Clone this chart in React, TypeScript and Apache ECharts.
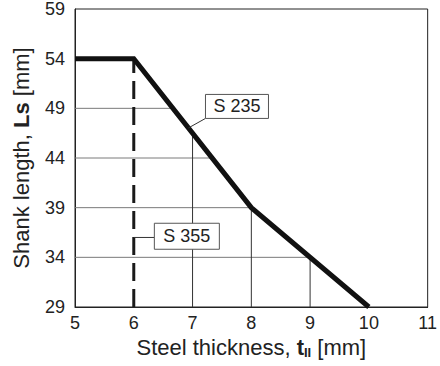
import React, { useEffect, useRef } from "react";
import * as echarts from "echarts";

// ---- data ----
const xMin = 5;
const xMax = 11;
const yMin = 29;
const yMax = 59;
const tickStep = 5;
const curveX = [5, 6, 8, 10];
const curveY = [54, 54, 39, 29];
const hGridY = [49, 44, 39, 34];
const vGridX = [7, 8, 9];
const dashX = 6;
const labelS235 = { text: "S 235", anchorX: 7.22, anchorY: 50.4, leaderX: 6.93 };
const labelS355 = { text: "S 355", anchorX: 6.35, anchorY: 37.43, leaderY: 36.0 };

const FONT = "'Liberation Sans Narrow', 'Liberation Sans', Arial, sans-serif";

function yAt(x: number): number {
  for (let i = 0; i < curveX.length - 1; i++) {
    if (x >= curveX[i] && x <= curveX[i + 1]) {
      const t = (x - curveX[i]) / (curveX[i + 1] - curveX[i]);
      return curveY[i] + t * (curveY[i + 1] - curveY[i]);
    }
  }
  return curveY[curveY.length - 1];
}
function xAt(y: number): number {
  for (let i = 0; i < curveX.length - 1; i++) {
    const a = curveY[i], b = curveY[i + 1];
    if (a !== b && y <= Math.max(a, b) && y >= Math.min(a, b)) {
      const t = (y - a) / (b - a);
      return curveX[i] + t * (curveX[i + 1] - curveX[i]);
    }
  }
  return curveX[0];
}
const off = (y: number) => y - yMin;

export default function App() {
  const ref = useRef<HTMLDivElement>(null);
  useEffect(() => {
    if (!ref.current) return;
    const chart = echarts.init(ref.current, undefined, { renderer: "svg" });
    const series: any[] = [];
    hGridY.forEach((y) => {
      series.push({
        type: "line",
        data: [[xMin, off(y)], [xAt(y), off(y)]],
        symbol: "none",
        lineStyle: { color: "#7a7a7a", width: 1 },
        silent: true,
        z: 1,
      });
    });
    vGridX.forEach((x) => {
      series.push({
        type: "line",
        data: [[x, 0], [x, off(yAt(x))]],
        symbol: "none",
        lineStyle: { color: "#333", width: 1 },
        silent: true,
        z: 1,
      });
    });
    series.push({
      type: "line",
      data: [[dashX, 0], [dashX, off(yAt(dashX))]],
      symbol: "none",
      lineStyle: { color: "#1a1a1a", width: 3, type: [18, 8] },
      silent: true,
      z: 2,
    });
    series.push({
      type: "line",
      data: curveX.map((x, i) => [x, off(curveY[i])]),
      symbol: "none",
      lineStyle: { color: "#111", width: 5, join: "miter" },
      silent: true,
      z: 3,
    });

    chart.setOption({
      animation: false,
      grid: { left: 75, right: 7, top: 8, bottom: 59, show: true, borderColor: "#222", borderWidth: 1 },
      xAxis: {
        type: "value",
        min: xMin,
        max: xMax,
        interval: 1,
        axisLine: { show: true, lineStyle: { color: "#222", width: 1 } },
        axisTick: { show: false },
        splitLine: { show: false },
        axisLabel: { color: "#222", fontSize: 18, fontFamily: FONT, margin: 7 },
        name: "{a|Steel thickness, }{b|t}{c|II}{a| [mm]}",
        nameLocation: "middle",
        nameGap: 29,
        nameTextStyle: {
          rich: {
            a: { fontSize: 22, fontFamily: FONT, color: "#222" },
            b: { fontSize: 22, fontFamily: FONT, color: "#222", fontWeight: "bold" },
            c: { fontSize: 13, fontFamily: FONT, color: "#222", fontWeight: "bold", padding: [9, 0, 0, 0] },
          },
        },
      },
      yAxis: {
        type: "value",
        min: 0,
        max: yMax - yMin,
        interval: tickStep,
        axisLine: { show: true, lineStyle: { color: "#222", width: 1 } },
        axisTick: { show: false },
        splitLine: { show: false },
        axisLabel: {
          color: "#222",
          fontSize: 18,
          fontFamily: FONT,
          margin: 10,
          formatter: (v: number) => String(v + yMin),
        },
        name: "{a|Shank length, }{b|Ls}{a| [mm]}",
        nameLocation: "middle",
        nameGap: 43,
        nameTextStyle: {
          rich: {
            a: { fontSize: 22, fontFamily: FONT, color: "#222" },
            b: { fontSize: 22, fontFamily: FONT, color: "#222", fontWeight: "bold" },
          },
        },
      },
      series,
    });

    const px = (x: number, y: number) => chart.convertToPixel({ gridIndex: 0 }, [x, off(y)]) as number[];
    const b1 = px(labelS235.anchorX, labelS235.anchorY);
    const l1 = px(labelS235.leaderX, yAt(labelS235.leaderX));
    const w1 = 63, h1 = 24;
    const b2 = px(labelS355.anchorX, labelS355.anchorY);
    const l2 = px(dashX, labelS355.leaderY);
    const w2 = 65, h2 = 26;
    chart.setOption({
      graphic: [
        { type: "line", shape: { x1: l1[0], y1: l1[1], x2: b1[0], y2: b1[1] + h1 }, style: { stroke: "#333", lineWidth: 1 }, z: 10 },
        { type: "rect", shape: { x: b1[0], y: b1[1], width: w1, height: h1 }, style: { fill: "#fff", stroke: "#555", lineWidth: 1 }, z: 10 },
        { type: "text", x: b1[0] + w1 / 2, y: b1[1] + h1 / 2, style: { text: labelS235.text, fontSize: 18, fontFamily: FONT, fill: "#222", align: "center", verticalAlign: "middle" }, z: 11 },
        { type: "line", shape: { x1: l2[0], y1: l2[1], x2: b2[0], y2: l2[1] }, style: { stroke: "#333", lineWidth: 1 }, z: 10 },
        { type: "rect", shape: { x: b2[0], y: b2[1], width: w2, height: h2 }, style: { fill: "#fff", stroke: "#555", lineWidth: 1 }, z: 10 },
        { type: "text", x: b2[0] + w2 / 2, y: b2[1] + h2 / 2, style: { text: labelS355.text, fontSize: 18, fontFamily: FONT, fill: "#222", align: "center", verticalAlign: "middle" }, z: 11 },
      ],
    });
    return () => chart.dispose();
  }, []);
  return <div ref={ref} style={{ width: 440, height: 366, position: "absolute", left: 0, top: 0, background: "#fff" }} />;
}
